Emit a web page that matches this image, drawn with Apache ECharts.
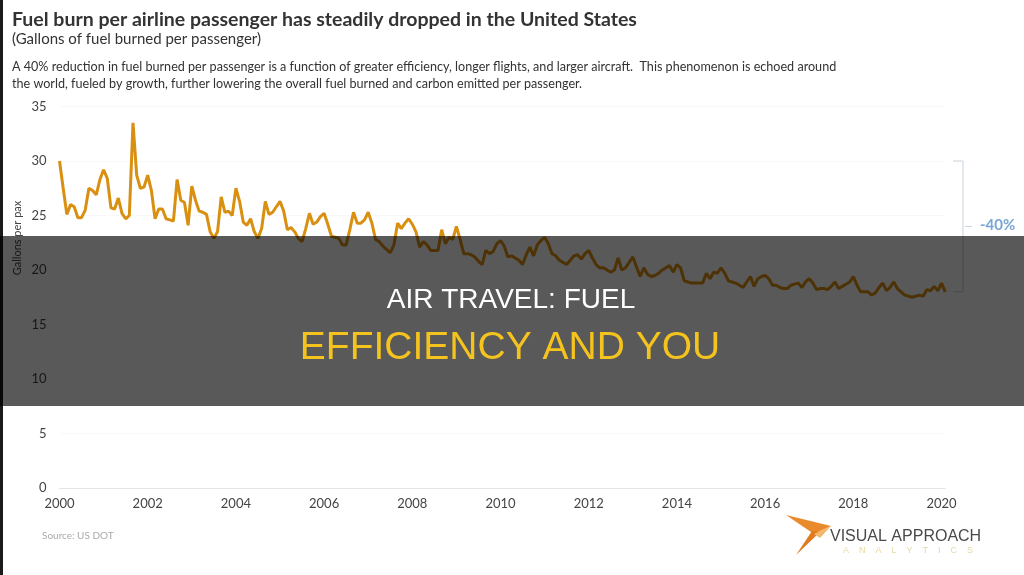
<!DOCTYPE html>
<html lang="en">
<head>
<meta charset="UTF-8">
<title>Fuel burn per airline passenger</title>
<script src="https://cdn.jsdelivr.net/npm/echarts@6/dist/echarts.min.js"></script>
<style>
    html, body { margin: 0; padding: 0; background: #fff; }
    #main { width: 1024px; height: 575px; }
</style>
</head>
<body>
<div id="main"></div>
<script>
    // monthly gallons of fuel per passenger, Jan 2000 .. Feb 2020
    var startYear = 2000;
    var fuelPerPax = [
        30.0, 27.5, 25.1, 26.0, 25.8, 24.8, 24.8, 25.5, 27.5, 27.3, 26.9, 28.3,
        29.2, 28.4, 25.7, 25.6, 26.6, 25.2, 24.7, 25.0, 33.5, 28.7, 27.5, 27.6,
        28.7, 27.3, 24.7, 25.6, 25.6, 24.7, 24.6, 24.5, 28.3, 26.4, 26.2, 24.1,
        27.7, 26.4, 25.4, 25.3, 25.1, 23.5, 22.9, 23.5, 26.7, 25.3, 25.4, 25.0,
        27.5, 26.3, 24.4, 24.1, 24.7, 23.5, 22.9, 23.8, 26.3, 25.1, 25.3, 25.8,
        26.3, 25.4, 23.7, 23.9, 23.5, 22.9, 22.6, 23.8, 25.2, 24.2, 24.4, 24.9,
        25.2, 24.2, 23.1, 23.0, 22.9, 22.3, 22.3, 23.7, 25.3, 24.3, 24.3, 24.6,
        25.3, 24.3, 22.8, 22.6, 22.2, 21.9, 21.6, 22.3, 24.3, 23.8, 24.3, 24.7,
        24.2, 23.5, 22.1, 22.6, 22.3, 21.8, 21.8, 21.8, 23.7, 22.4, 23.0, 22.8,
        24.0, 22.8, 21.5, 21.5, 21.4, 21.2, 20.8, 20.5, 21.8, 21.5, 21.7, 22.4,
        22.7, 22.2, 21.2, 21.3, 21.1, 20.9, 20.5, 21.4, 22.1, 21.3, 22.3, 22.7,
        23.0, 22.4, 21.5, 21.3, 20.9, 20.7, 20.5, 20.9, 21.3, 21.4, 21.0, 21.5,
        21.8, 21.1, 20.5, 20.2, 20.2, 20.0, 19.8, 20.0, 21.1, 20.0, 20.2, 20.7,
        21.2, 20.3, 19.4, 20.2, 19.6, 19.4, 19.5, 19.7, 20.0, 20.2, 20.4, 19.8,
        20.5, 20.2, 19.0, 18.9, 18.8, 18.8, 18.8, 18.8, 19.7, 19.2, 19.8, 19.7,
        20.2, 19.7, 19.0, 18.9, 18.8, 18.6, 18.4, 18.9, 19.4, 18.5, 19.2, 19.4,
        19.5, 19.2, 18.6, 18.6, 18.4, 18.3, 18.3, 18.6, 18.7, 18.8, 18.4, 18.9,
        19.2, 18.8, 18.2, 18.3, 18.3, 18.2, 18.5, 18.9, 18.3, 18.5, 18.7, 18.9,
        19.4, 18.6, 18.0, 18.0, 18.0, 17.7, 17.9, 18.4, 18.8, 18.1, 18.4, 18.9,
        18.3, 18.0, 17.7, 17.6, 17.5, 17.6, 17.7, 17.6, 18.2, 18.1, 18.5, 18.1,
        18.8, 18.0
    ];
    var yTicks = [0, 5, 10, 15, 20, 25, 30, 35];
    var bracketRange = [30, 18];     // start and end of the -40% bracket
    var bracketLabel = '-40%';

    // category labels 'YYYY-MM'
    var months = [];
    for (var i = 0; i < fuelPerPax.length; i++) {
        var m = i % 12 + 1;
        months.push((startYear + Math.floor(i / 12)) + '-' + (m < 10 ? '0' + m : m));
    }

    var chart = echarts.init(document.getElementById('main'));
    var option = {
        animation: false,
        backgroundColor: '#fff',
        title: [
            {
                text: 'Fuel burn per airline passenger has steadily dropped in the United States',
                left: 7, top: 5,
                textStyle: { fontFamily: 'Lato', fontSize: 19.5, fontWeight: 'bold', color: '#333' }
            },
            {
                text: '(Gallons of fuel burned per passenger)',
                left: 7, top: 27,
                textStyle: { fontFamily: 'Lato', fontSize: 15, fontWeight: 'normal', color: '#333' }
            },
            {
                text: 'A 40% reduction in fuel burned per passenger is a function of greater efficiency, longer flights, and larger aircraft.  This phenomenon is echoed around\nthe world, fueled by growth, further lowering the overall fuel burned and carbon emitted per passenger.',
                left: 7, top: 54,
                textStyle: { fontFamily: 'Lato', fontSize: 12.6, fontWeight: 'normal', color: '#333', lineHeight: 16.5 }
            }
        ],
        grid: { left: 59.5, right: 78.8, top: 106.5, bottom: 87 },
        xAxis: {
            type: 'category',
            data: months,
            boundaryGap: false,
            axisLine: { lineStyle: { color: '#e4e4e4', width: 1 } },
            axisTick: { show: false },
            axisLabel: {
                interval: 23,
                margin: 9,
                fontFamily: 'Lato', fontSize: 13, color: '#444',
                formatter: function (v) { return v.slice(0, 4); }
            },
            splitLine: { show: false }
        },
        yAxis: {
            type: 'value',
            min: yTicks[0], max: yTicks[yTicks.length - 1], interval: 5,
            axisLine: { show: false },
            axisTick: { show: false },
            axisLabel: { margin: 13, fontFamily: 'Lato', fontSize: 13, color: '#444' },
            splitLine: { lineStyle: { color: '#f8f8f8' } }
        },
        series: [{
            type: 'line',
            data: fuelPerPax,
            showSymbol: false,
            lineStyle: { color: '#d98f10', width: 3 },
            itemStyle: { color: '#d98f10' }
        }]
    };
    chart.setOption(option);

    // bracket on the right, placed through the y scale
    var yA = chart.convertToPixel({ yAxisIndex: 0 }, bracketRange[0]);
    var yB = chart.convertToPixel({ yAxisIndex: 0 }, bracketRange[1]);
    var yM = (yA + yB) / 2;
    var bx = 963;
    var bracketStyle = { stroke: '#c9d3dc', lineWidth: 1 };

    chart.setOption({
        graphic: [
            { type: 'line', shape: { x1: bx, y1: yA, x2: bx, y2: yB }, style: bracketStyle },
            { type: 'line', shape: { x1: bx - 10, y1: yA, x2: bx, y2: yA }, style: bracketStyle },
            { type: 'line', shape: { x1: bx - 10, y1: yB, x2: bx, y2: yB }, style: bracketStyle },
            { type: 'line', shape: { x1: bx + 2, y1: yM, x2: bx + 9, y2: yM }, style: bracketStyle },
            {
                type: 'text', left: 980, top: yM - 9,
                style: { text: bracketLabel, fontFamily: 'Lato', fontSize: 15, fontWeight: 'bold', fill: '#78a6d4' }
            },
            // axis name
            {
                type: 'text', x: 17, y: 238, rotation: Math.PI / 2,
                style: { text: 'Gallons per pax', fontFamily: 'Lato', fontSize: 11, fill: '#444', align: 'center', verticalAlign: 'middle' }
            },
            // source
            {
                type: 'text', left: 42, top: 531,
                style: { text: 'Source: US DOT', fontFamily: 'Lato', fontSize: 10, fill: '#aaa' }
            },
            // logo
            { type: 'polygon', shape: { points: [[786, 515], [814, 534], [831, 526]] }, style: { fill: '#e98a2c' } },
            { type: 'polygon', shape: { points: [[812, 531], [796, 555], [820, 532]] }, style: { fill: '#e07a1f' } },
            { type: 'polygon', shape: { points: [[814, 534], [831, 526], [820, 538]] }, style: { fill: '#f3b66a' } },
            {
                type: 'text', left: 830, top: 529,
                style: { text: 'VISUAL APPROACH', fontFamily: 'Liberation Sans', fontSize: 16, fill: '#4a4a4a' }
            },
            {
                type: 'text', left: 843, top: 546,
                style: { text: 'A    N    A    L    Y    T    I    C    S', fontFamily: 'Liberation Sans', fontSize: 9, fill: '#e6d9a0' }
            },
            // left dark edge
            { type: 'rect', shape: { x: 0, y: 0, width: 3, height: 575 }, style: { fill: '#1a1a1a' }, z: 100 },
            // overlay band
            { type: 'rect', shape: { x: 0, y: 236, width: 1024, height: 170 }, style: { fill: 'rgba(0,0,0,0.65)' }, z: 100 },
            {
                type: 'text', x: 511, y: 300, z: 101,
                style: { text: 'AIR TRAVEL: FUEL', fontFamily: 'Liberation Sans', fontSize: 28, fill: '#ffffff', align: 'center', verticalAlign: 'middle' }
            },
            {
                type: 'text', x: 510, y: 348, z: 101,
                style: { text: 'EFFICIENCY AND YOU', fontFamily: 'Liberation Sans', fontSize: 39, fill: '#f5c31d', align: 'center', verticalAlign: 'middle' }
            }
        ]
    });
</script>
</body>
</html>
